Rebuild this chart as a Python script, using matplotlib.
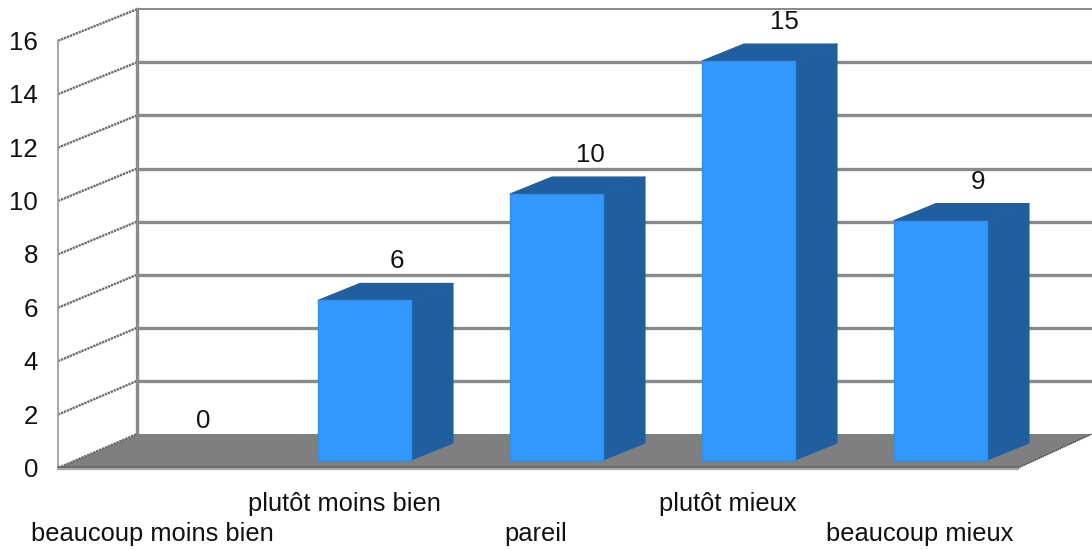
"""Pseudo-3D bar chart drawn from category positions and values."""

import matplotlib
matplotlib.use("Agg")
import matplotlib.pyplot as plt
from matplotlib.patches import Polygon

# ---------------------------------------------------------------------------
# Data
# ---------------------------------------------------------------------------

CATEGORIES = ["beaucoup moins bien", "plutôt moins bien", "pareil",
              "plutôt mieux", "beaucoup mieux"]
VALUES = [0, 6, 10, 15, 9]
Y_TICKS = [0, 2, 4, 6, 8, 10, 12, 14, 16]

# ---------------------------------------------------------------------------
# Config (pixel geometry of the fake 3D box)
# ---------------------------------------------------------------------------

PX_W, PX_H = 1092, 550
FRONT_X, BACK_X = 58, 137
FRONT_Y0, BACK_Y0 = 468, 434
UNIT_FRONT = 26.7
UNIT_BACK = 26.55
RIGHT_FRONT, RIGHT_BACK = 1018, 1092

BAR_Y0 = 460
BAR_UNIT = 26.6
BAR_W = 93
BAR_FIRST_CENTER = 172.5
BAR_STEP = 192
DEPTH_X, DEPTH_Y = 42, 17

VALUE_FIRST_X = 203
VALUE_STEP = 193.8

FRONT_COL = "#3399ff"
EDGE_COL = "#2f8fee"
SIDE_COL = "#1f5f9e"
TOP_COL = "#1f5fa0"
FLOOR_COL = "#7f7f7f"
LINE_COL = "#8a8a8a"
TEXT_COL = "#111111"

plt.rcParams["font.family"] = ["Liberation Sans", "DejaVu Sans"]
LABEL_SIZE = 18.4
TICK_SIZE = 18.6


def back_y(v):
    return BACK_Y0 - v * UNIT_BACK


def front_y(v):
    return FRONT_Y0 - v * UNIT_FRONT


def draw_box(ax):
    ax.add_patch(Polygon([(FRONT_X, FRONT_Y0), (BACK_X, BACK_Y0),
                          (RIGHT_BACK, BACK_Y0), (RIGHT_FRONT, FRONT_Y0)],
                         closed=True, fc=FLOOR_COL, ec="none", zorder=1))
    # floor front edge
    ax.plot([FRONT_X, RIGHT_FRONT], [FRONT_Y0 + 0.5, FRONT_Y0 + 0.5],
            color="#a8a8a8", lw=1.6, zorder=2)
    ax.plot([FRONT_X, RIGHT_FRONT], [FRONT_Y0 - 1.5, FRONT_Y0 - 1.5],
            color="#666666", lw=1.1, zorder=2)

    # back wall grid + left wall diagonals
    for v in Y_TICKS:
        by = back_y(v)
        if v > 0:
            lw = 1.4 if v == Y_TICKS[-1] else 2.4
            ax.plot([BACK_X, PX_W], [by, by], color=LINE_COL, lw=lw, zorder=0.5)
        ax.plot([FRONT_X, BACK_X], [front_y(v), by], color="#6e6e6e", lw=1.7,
                ls=(0, (1.0, 0.35)), zorder=0.6 if v > 0 else 1.5)
        ax.text(FRONT_X - 20, front_y(v) + 2, str(v), ha="right", va="center",
                fontsize=TICK_SIZE, color=TEXT_COL)

    ax.plot([BACK_X, BACK_X], [back_y(Y_TICKS[-1]), BACK_Y0],
            color=LINE_COL, lw=2.4, zorder=0.7)
    ax.plot([FRONT_X, FRONT_X], [front_y(Y_TICKS[-1]), FRONT_Y0],
            color="#a0a0a0", lw=1.3, zorder=0.7)

    # right floor edge is jagged dark
    ax.plot([RIGHT_FRONT, RIGHT_BACK], [FRONT_Y0, BACK_Y0], color="#444444",
            lw=1.0, ls=(0, (1.0, 0.5)), zorder=1.2)


def draw_bar(ax, center, value, label_x):
    x0 = center - BAR_W / 2
    x1 = center + BAR_W / 2
    y0 = BAR_Y0
    y1 = BAR_Y0 - value * BAR_UNIT
    if value > 0:
        ax.add_patch(Polygon([(x1, y0), (x1 + DEPTH_X, y0 - DEPTH_Y),
                              (x1 + DEPTH_X, y1 - DEPTH_Y), (x1, y1)],
                             closed=True, fc=SIDE_COL, ec=SIDE_COL, lw=0.8,
                             joinstyle="round", zorder=3))
        ax.add_patch(Polygon([(x0, y1), (x0 + DEPTH_X, y1 - DEPTH_Y),
                              (x1 + DEPTH_X, y1 - DEPTH_Y), (x1, y1)],
                             closed=True, fc=TOP_COL, ec=TOP_COL, lw=0.8,
                             joinstyle="round", zorder=3))
        ax.add_patch(Polygon([(x0, y0), (x1, y0), (x1, y1), (x0, y1)],
                             closed=True, fc=FRONT_COL, ec=EDGE_COL, lw=1.0,
                             joinstyle="round", zorder=4))
    ax.text(label_x, y1 - 39, str(value), ha="center", va="center",
            fontsize=TICK_SIZE, color=TEXT_COL, zorder=5)


def main():
    fig = plt.figure(figsize=(PX_W / 100, PX_H / 100), dpi=100)
    ax = fig.add_axes([0, 0, 1, 1])
    ax.set_xlim(0, PX_W)
    ax.set_ylim(PX_H, 0)
    ax.axis("off")

    draw_box(ax)

    for i, (name, value) in enumerate(zip(CATEGORIES, VALUES)):
        center = BAR_FIRST_CENTER + i * BAR_STEP
        draw_bar(ax, center, value, VALUE_FIRST_X + i * VALUE_STEP)
        label_y = 504 if i % 2 else 534
        ax.text(center - 20.5, label_y, name, ha="center", va="center",
                fontsize=LABEL_SIZE, color=TEXT_COL)

    fig.savefig("out.png", dpi=100)
    plt.close(fig)


if __name__ == "__main__":
    main()
